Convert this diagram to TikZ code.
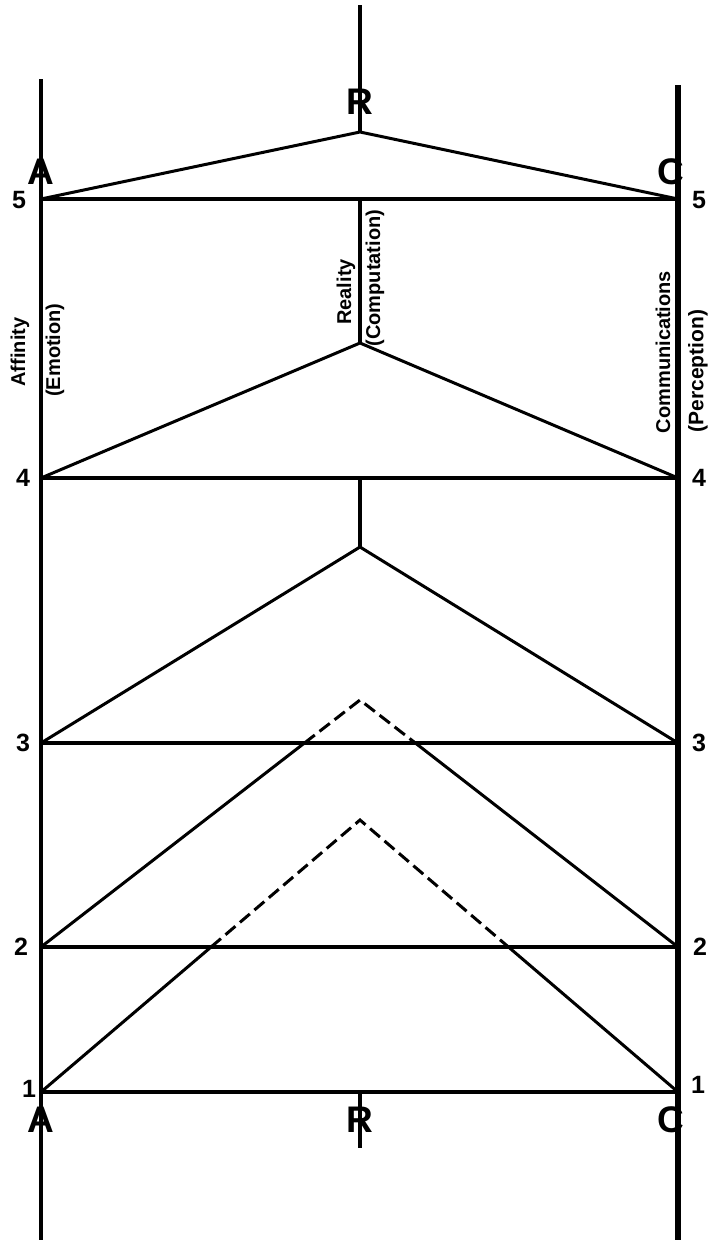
\documentclass[tikz,border=0pt]{standalone}
\usepackage{fontspec}
\setmainfont{Liberation Sans}
\usetikzlibrary{calc}
\begin{document}
\begin{tikzpicture}[x=1pt,y=-1pt,
  axis/.style={line width=4.6pt},
  axisR/.style={line width=5.6pt},
  level/.style={line width=4.2pt},
  side/.style={line width=3pt},
  mid/.style={line width=3.3pt},
  dashside/.style={line width=3pt,dash pattern=on 13pt off 6pt},
  letter/.style={inner sep=0pt,font=\bfseries\fontsize{37}{37}\selectfont},
  num/.style={inner sep=0pt,font=\bfseries\fontsize{25}{25}\selectfont},
  lab/.style={inner sep=0pt,rotate=90,font=\bfseries\fontsize{20}{20}\selectfont}]
\useasboundingbox (0,0) rectangle (715,1245);
% coordinates
\coordinate (Atop) at (41,79);
\coordinate (Abot) at (41,1240);
\coordinate (Ctop) at (678,85);
\coordinate (Cbot) at (678,1240);
\coordinate (Rtop) at (360,5);
\coordinate (Rbot) at (360,1148);
\foreach \n/\y in {5/199,4/478,3/743,2/947,1/1092}{
  \coordinate (A\n) at (41,\y);
  \coordinate (C\n) at (678,\y);
  \coordinate (M\n) at (360,\y);
}
\coordinate (P5) at (360,132);
\coordinate (P4) at (360,343);
\coordinate (P3) at (360,547);
\coordinate (P2) at (360,700);
\coordinate (P1) at (360,820);
\coordinate (X2l) at ($(A2)!0.826!(P2)$);
\coordinate (X2r) at ($(C2)!0.826!(P2)$);
\coordinate (X1l) at ($(A1)!0.533!(P1)$);
\coordinate (X1r) at ($(C1)!0.533!(P1)$);
% main verticals
\draw[axis] (Atop) -- (Abot);
\draw[axisR] (Ctop) -- (Cbot);
% centre line pieces
\draw[mid] (Rtop) -- (P5);
\draw[mid] (M5) -- (P4);
\draw[mid] (M4) -- (P3);
\draw[mid] (M1) -- (Rbot);
% levels
\foreach \n in {5,4,3,2,1}{\draw[level] (A\n) -- (C\n);}
% triangles
\draw[side] (A5) -- (P5) -- (C5);
\draw[side] (A4) -- (P4) -- (C4);
\draw[side] (A3) -- (P3) -- (C3);
\draw[side] (A2) -- (X2l);
\draw[side] (C2) -- (X2r);
\draw[dashside] (X2l) -- (P2) -- (X2r);
\draw[side] (A1) -- (X1l);
\draw[side] (C1) -- (X1r);
\draw[dashside] (X1l) -- (P1) -- (X1r);
% letters
\node[letter] (tA) at (41,172) {A};
\node[letter] (tR) at (360,102) {R};
\node[letter] (tC) at (671,172) {C};
\node[letter] (bA) at (41,1120) {A};
\node[letter] (bR) at (360,1120) {R};
\node[letter] (bC) at (671,1120) {C};
% numbers
\node[num] (l5) at (19,200) {5};
\node[num] (l4) at (23,478) {4};
\node[num] (l3) at (23,743) {3};
\node[num] (l2) at (21,947) {2};
\node[num] (l1) at (29,1089) {1};
\node[num] (r5) at (699,200) {5};
\node[num] (r4) at (699,478) {4};
\node[num] (r3) at (699,743) {3};
\node[num] (r2) at (700,947) {2};
\node[num] (r1) at (698,1085) {1};
% labels
\node[lab] (aff) at (20,352) {Affinity};
\node[lab] (emo) at (55,350) {(Emotion)};
\node[lab] (rea) at (346,292) {Reality};
\node[lab] (com) at (375,278) {(Computation)};
\node[lab] (cmm) at (663,352) {Communications};
\node[lab,font=\bfseries\fontsize{21}{21}\selectfont] (per) at (698,371) {(Perception)};
\end{tikzpicture}
\end{document}
